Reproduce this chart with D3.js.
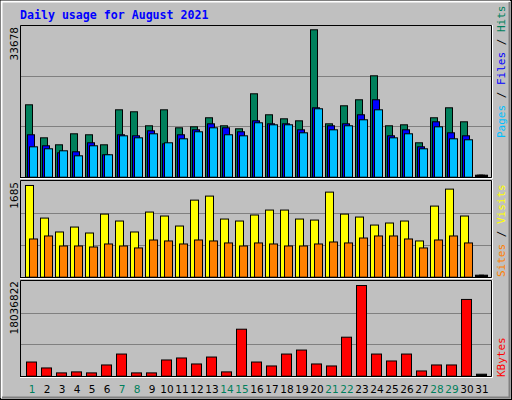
<!DOCTYPE html>
<html><head><meta charset="utf-8">
<script src="https://cdn.jsdelivr.net/npm/d3@7/dist/d3.min.js"></script>
<style>body{margin:0;background:#fff}svg{display:block}</style>
</head><body>
<script>
const days = d3.range(1,32);
const weekend = [1,7,8,14,15,21,22,28,29];
const hits = [16180,8800,7240,9700,9480,7240,15060,14620,11490,15060,11040,11260,13280,11490,10820,18640,13950,13050,12600,32940,11930,15960,17300,22660,11490,11710,7690,13280,15510,12380,0];
const files = [9480,7020,5450,5680,7690,5010,9480,9250,10370,7460,9480,10590,11930,11040,10150,12600,11930,11930,10590,15510,11490,11930,13950,17300,9250,10590,6790,12380,9920,9250,0];
const pages = [6790,6350,5900,4780,7020,5010,9250,8800,9700,7690,8580,10150,11040,9480,9250,12160,11710,11710,9920,15290,10590,11490,12830,15060,8800,9700,6350,11260,8580,8360,0];
const visits = [1615,1041,796,883,778,1111,989,796,1147,1077,901,1357,1428,1024,989,1095,1182,1182,1024,1006,1498,1111,1059,918,954,989,638,1252,1551,1077,0];
const sites = [673,726,550,550,532,585,550,515,655,638,585,655,638,603,550,603,585,550,550,585,620,603,690,726,726,673,515,655,726,603,0];
const kbytes = [2700000,1570000,630000,820000,630000,2140000,4220000,630000,630000,3090000,3470000,2330000,3650000,820000,8950000,2700000,1950000,4220000,4980000,2330000,1950000,7430000,17270000,4220000,2900000,4220000,1000000,2140000,2140000,14620000,0];
const maxHits = 33678, maxVisits = 1685, maxKB = 18036822;

const W=512,H=400;
const svg=d3.select("body").append("svg").attr("width",W).attr("height",H);
svg.append("rect").attr("x",0).attr("y",0).attr("width",W).attr("height",H).attr("fill","#c0c0c0");
// bevel
svg.append("rect").attr("x",0.5).attr("y",0.5).attr("width",W-1).attr("height",H-1).attr("fill","none").attr("stroke","#000");
svg.append("path").attr("d",`M1.5,${H-2}V1.5H${W-2}`).attr("fill","none").attr("stroke","#fff").attr("stroke-width",2);
svg.append("path").attr("d",`M2,${H-2.5}H${W-2.5}V2`).attr("fill","none").attr("stroke","#808080").attr("stroke-width",2);

svg.append("text").attr("x",20).attr("y",19).attr("fill","#0000ff")
  .style("font-family","DejaVu Sans Mono").style("font-size","11.6px").style("font-weight","bold")
  .text("Daily usage for August 2021");

const x = d3.scaleBand().domain(days).range([21,486]).paddingInner(0);
const L=20, R=491;

function panel(y0,y1,max){
  svg.append("rect").attr("x",L).attr("y",y0).attr("width",R-L).attr("height",y1-y0).attr("fill","#c0c0c0");
  const y=d3.scaleLinear().domain([0,max]).range([y1-0.3,y0+1]);
  [1/3,2/3].forEach(f=>{
    const gy=Math.round(y(max*f))+0.5;
    svg.append("line").attr("x1",L).attr("x2",R).attr("y1",gy).attr("y2",gy).attr("stroke","#808080");
  });
  return y;
}
function frame(y0,y1){
  svg.append("path").attr("d",`M${L+0.5},${y1}V${y0+0.5}H${R+0.5}V${y1+0.5}H${L}`).attr("fill","none").attr("stroke","#000");
  svg.append("path").attr("d",`M${L},${y1+1.5}H${R+1.5}V${y0}`).attr("fill","none").attr("stroke","#fff");
}
function bars(data,y,off,w,color){
  svg.append("g").selectAll("rect").data(data).join("rect")
    .attr("x",(d,i)=>x(days[i])+off+0.5)
    .attr("y",d=>Math.min(y(d),y(0)-2)+0.5)
    .attr("width",w)
    .attr("height",d=>Math.max(y(0)-y(d),2))
    .attr("fill",d=>d>0?color:"#000").attr("stroke","#000");
}

const y1=panel(25,177,maxHits);
bars(hits,y1,4,7,"#00805c");
bars(files,y1,6,7,"#0000ff");
bars(pages,y1,8,8,"#00c0ff");
frame(25,177);

const y2=panel(180,277,maxVisits);
bars(visits,y2,4,8,"#ffff00");
bars(sites,y2,8,8,"#ff8000");
frame(180,277);

const y3=panel(280,376,maxKB);
bars(kbytes,y3,5,10,"#ff0000");
frame(280,376);

// x labels
svg.append("g").selectAll("text").data(days).join("text")
  .attr("x",d=>x(d)+11).attr("y",393).attr("text-anchor","middle")
  .attr("fill",d=>weekend.includes(d)?"#00805c":"#000")
  .style("font-family","DejaVu Sans").style("font-size","10.5px").text(d=>d);

// y max labels
function ylab(txt,yTop){
  svg.append("text").attr("transform",`translate(18,${yTop}) rotate(-90)`).attr("text-anchor","end")
   .style("font-family","DejaVu Sans").style("font-size","10.5px").attr("fill","#000").text(txt);
}
ylab("33678",27);ylab("1685",182);ylab("18036822",281);

function rlab(parts,yBottom){
  const t=svg.append("text").attr("transform",`translate(505,${yBottom}) rotate(-90)`)
   .style("font-family","DejaVu Sans Mono").style("font-size","11px");
  parts.forEach(p=>t.append("tspan").attr("fill",p[1]).text(p[0]));
}
rlab([["Pages","#00c0ff"],[" / ","#000"],["Files","#0000ff"],[" / ","#000"],["Hits","#00805c"]],138);
rlab([["Sites","#ff8000"],[" / ","#000"],["Visits","#ffff00"]],277);
rlab([["KBytes","#ff0000"]],377);
</script>
</body></html>
